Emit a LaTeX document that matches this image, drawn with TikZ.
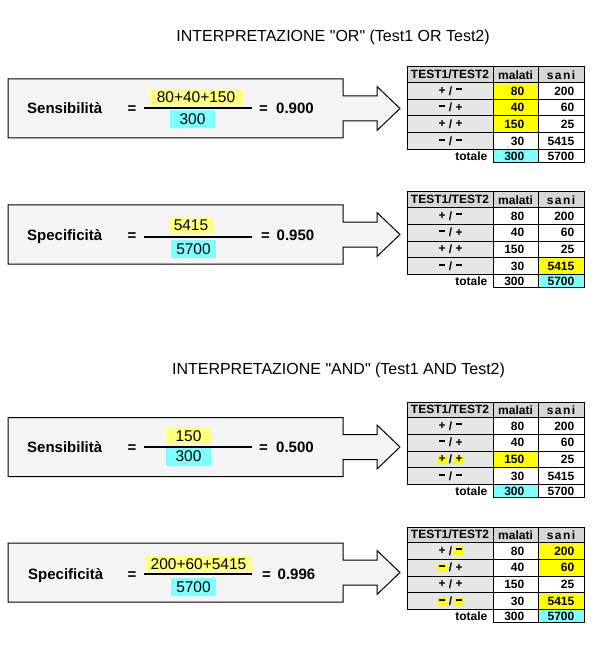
\documentclass[tikz,border=0pt]{standalone}
\usepackage{fontspec}
\setmainfont{Liberation Sans}[Ligatures=TeXOff]
\definecolor{boxfill}{HTML}{F4F4F4}
\definecolor{hdr}{HTML}{D6D6D6}
\definecolor{lbl}{HTML}{E6E6E6}
\definecolor{yel}{HTML}{FFFF00}
\definecolor{lyel}{HTML}{FFFF80}
\definecolor{cya}{HTML}{80FFFF}
\tikzset{
  ttl/.style={font=\fontsize{16}{18}\selectfont, inner sep=0pt},
  lab/.style={font=\bfseries\fontsize{15}{17}\selectfont, anchor=base west, inner sep=0pt},
  eqtxt/.style={font=\bfseries\fontsize{15}{17}\selectfont, anchor=base, inner sep=0pt},
  fractxt/.style={font=\fontsize{15.5}{17}\selectfont, inner sep=0pt},
  tbtxt/.style={font=\bfseries\fontsize{12}{14}\selectfont, inner sep=0pt},
  arrowbox/.style={draw=black, line width=1pt, fill=boxfill},
  tline/.style={draw=black, line width=1pt},
  fracline/.style={draw=black, line width=2pt},
}
\newcommand\mn{\rule[3pt]{6pt}{2pt}}
\newcommand\abox{\draw[arrowbox] (8,-29.5) -- (343,-29.5) -- (343,-12.5) -- (377,-12.5) -- (377,-22) -- (400,0) -- (377,22) -- (377,12.5) -- (343,12.5) -- (343,29.5) -- (8,29.5) -- cycle;}
% table background
\newcommand\tblbg[1]{\begin{scope}[yshift=-#1pt]
  \fill[white] (407,0) rectangle (584,95.5);
  \fill[hdr] (407,0) rectangle (584,15.5);
  \fill[lbl] (407,15.5) rectangle (493,82.5);
\end{scope}}
% highlight a cell: top, xleft, xright, row(1..5), colour
\newcommand\cellhl[5]{\begin{scope}[yshift=-#1pt]
  \pgfmathsetmacro\ya{15.5+16.75*(#4-1)}
  \pgfmathsetmacro\yb{\ya+ifthenelse(#4==5,13,16.75)}
  \fill[#5] (#2,\ya) rectangle (#3,\yb);
\end{scope}}
% highlight a sign: top, row, xleft
\newcommand\symhl[3]{\begin{scope}[yshift=-#1pt]
  \pgfmathsetmacro\yc{15.5+16.75*(#2-1)+8.375}
  \fill[yel] (#3,\yc-4.6) rectangle ++(10.5,9.2);
\end{scope}}
\newcommand\lblrow[4]{%
  \node[tbtxt] (#1l) at (442,#2) {#3};
  \node[tbtxt] (#1s) at (450.5,#2) {/};
  \node[tbtxt] (#1r) at (459,#2) {#4};}
\newcommand\tblfg[2]{\begin{scope}[yshift=-#1pt]
  \draw[tline] (407,0) rectangle (584,82.5);
  \foreach \yy in {15.5,32.25,49,65.75} \draw[tline] (407,\yy) -- (584,\yy);
  \draw[tline] (493,0) -- (493,95.5) -- (584,95.5) -- (584,82.5);
  \draw[tline] (538,0) -- (538,95.5);
  \node[tbtxt] (#2h1) at (450,7.75) {TEST1/TEST2};
  \node[tbtxt] (#2h2) at (515.5,7.75) {malati};
  \node[tbtxt] (#2h3) at (561,7.75) {s\kern1.4pt a\kern1.4pt n\kern1.4pt i};
  \lblrow{#2a}{23.875}{+}{\mn}
  \lblrow{#2b}{40.625}{\mn}{+}
  \lblrow{#2c}{57.375}{+}{+}
  \lblrow{#2d}{74.125}{\mn}{\mn}
  \node[tbtxt,anchor=east] (#2tot) at (487.5,89) {totale};
  \node[tbtxt,anchor=east] (#2m1) at (524.5,23.875) {80};
  \node[tbtxt,anchor=east] (#2m2) at (524.5,40.625) {40};
  \node[tbtxt,anchor=east] (#2m3) at (524.5,57.375) {150};
  \node[tbtxt,anchor=east] (#2m4) at (524.5,74.125) {30};
  \node[tbtxt,anchor=east] (#2m5) at (524.5,89) {300};
  \node[tbtxt,anchor=east] (#2s1) at (574.5,23.875) {200};
  \node[tbtxt,anchor=east] (#2s2) at (574.5,40.625) {60};
  \node[tbtxt,anchor=east] (#2s3) at (574.5,57.375) {25};
  \node[tbtxt,anchor=east] (#2s4) at (574.5,74.125) {5415};
  \node[tbtxt,anchor=east] (#2s5) at (574.5,89) {5700};
\end{scope}}
\begin{document}
\begin{tikzpicture}[x=1pt,y=-1pt]
\useasboundingbox (0,0) rectangle (604,652);
\fill[white] (0,0) rectangle (604,652);
% titles
\node[ttl] (title1) at (333,37) {INTERPRETAZIONE "OR" (Test1 OR Test2)};
\node[ttl] (title2) at (338.5,370) {INTERPRETAZIONE "AND" (Test1 AND Test2)};
% panel 1
\begin{scope}[yshift=-108.5pt]
  \abox
  \fill[lyel] (149,-19.5) rectangle (243,-2.5);
  \fill[cya] (170,1.5) rectangle (215,19.5);
  \draw[fracline] (143.5,-0.8) -- (251.5,-0.8);
  \node[lab] (lab1) at (27,5.5) {Sensibilità};
  \node[eqtxt] (eq1) at (132,5.5) {=};
  \node[fractxt] (num1) at (196,-11) {80+40+150};
  \node[fractxt] (den1) at (192.5,10.5) {300};
  \node[lab] (res1) at (259,5.5) {=\hspace{0.55em}0.900};
\end{scope}
% panel 2
\begin{scope}[yshift=-234.5pt]
  \abox
  \fill[lyel] (169,-17.5) rectangle (213,-0.5);
  \fill[cya] (171,5.5) rectangle (216,23.5);
  \draw[fracline] (143.5,2.2) -- (251.5,2.2);
  \node[lab] (lab2) at (27,6) {Specificità};
  \node[eqtxt] (eq2) at (132,6) {=};
  \node[fractxt] (num2) at (191,-9) {5415};
  \node[fractxt] (den2) at (193.5,14.5) {5700};
  \node[lab] (res2) at (261,6) {=\hspace{0.45em}0.950};
\end{scope}
% panel 3
\begin{scope}[yshift=-447pt]
  \abox
  \fill[lyel] (166,-19.7) rectangle (211,-3);
  \fill[cya] (166,-0.3) rectangle (211,18.7);
  \draw[fracline] (144,-0.3) -- (252,-0.3);
  \node[lab] (lab3) at (27,5) {Sensibilità};
  \node[eqtxt] (eq3) at (132,5) {=};
  \node[fractxt] (num3) at (188.5,-11.3) {150};
  \node[fractxt] (den3) at (188.5,9.5) {300};
  \node[lab] (res3) at (259,5) {=\hspace{0.55em}0.500};
\end{scope}
% panel 4
\begin{scope}[yshift=-572.5pt]
  \abox
  \fill[lyel] (145,-16.5) rectangle (252,-0.5);
  \fill[cya] (171,5.5) rectangle (216,23.5);
  \draw[fracline] (144,1.8) -- (252,1.8);
  \node[lab] (lab4) at (28,6.5) {Specificità};
  \node[eqtxt] (eq4) at (132,6.5) {=};
  \node[fractxt] (num4) at (198.5,-8.5) {200+60+5415};
  \node[fractxt] (den4) at (193.5,14.5) {5700};
  \node[lab] (res4) at (262,6.5) {=\hspace{0.45em}0.996};
\end{scope}
% table 1
\tblbg{67}
\cellhl{67}{493}{538}{1}{yel}
\cellhl{67}{493}{538}{2}{yel}
\cellhl{67}{493}{538}{3}{yel}
\cellhl{67}{493}{538}{5}{cya}
\tblfg{67}{ta}
% table 2
\tblbg{192}
\cellhl{192}{538}{584}{4}{yel}
\cellhl{192}{538}{584}{5}{cya}
\tblfg{192}{tb}
% table 3
\tblbg{402}
\cellhl{402}{493}{538}{3}{yel}
\cellhl{402}{493}{538}{5}{cya}
\symhl{402}{3}{436.5}
\symhl{402}{3}{453.5}
\tblfg{402}{tc}
% table 4
\tblbg{527}
\cellhl{527}{538}{584}{1}{yel}
\cellhl{527}{538}{584}{2}{yel}
\cellhl{527}{538}{584}{4}{yel}
\cellhl{527}{538}{584}{5}{cya}
\symhl{527}{1}{453.5}
\symhl{527}{2}{436.5}
\symhl{527}{4}{436.5}
\symhl{527}{4}{453.5}
\tblfg{527}{td}
\end{tikzpicture}
\end{document}
